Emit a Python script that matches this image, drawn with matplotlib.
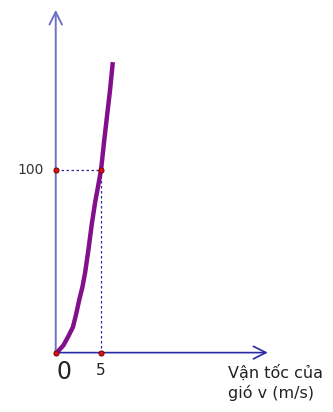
import matplotlib

matplotlib.use("Agg")
import matplotlib.pyplot as plt

# wind speed v (m/s) vs power
speed = [0, 0.3, 0.85, 1.4, 1.9, 2.25, 2.6, 2.95, 3.25, 3.6, 3.97, 4.34, 4.6,
         5.0, 5.35, 5.65, 6.0, 6.3]
power = [0, 1, 4, 9, 14, 21, 29, 36, 44, 56, 70, 82, 89,
         100, 116, 129, 144, 159]

marked_speed = 5
marked_power = 100
x_label = "Vận tốc của\ngió v (m/s)"

fig = plt.figure(figsize=(3.33, 4.12), dpi=100)
ax = fig.add_axes([0, 0, 1, 1])
ax.set_xlim(-6.15, 30.6)
ax.set_ylim(-32.5, 193.0)
ax.axis("off")

# axes with open arrow heads
ax.annotate("", xy=(0, 187.6), xytext=(0, 0),
            arrowprops=dict(arrowstyle="->,head_length=0.9,head_width=0.45",
                            color="#7070c4", lw=1.4, shrinkA=0, shrinkB=0))
ax.annotate("", xy=(23.4, 0), xytext=(0, 0),
            arrowprops=dict(arrowstyle="->,head_length=0.9,head_width=0.45",
                            color="#2a2aa8", lw=1.2, shrinkA=0, shrinkB=0))

# guide lines
ax.plot([0, marked_speed], [marked_power, marked_power], ls=(0, (2, 2)),
        color="#2a2aa8", lw=0.9)
ax.plot([marked_speed, marked_speed], [0, marked_power], ls=(0, (2, 2)),
        color="#2a2aa8", lw=0.9)

ax.plot(speed, power, color="#82108c", lw=3.2, solid_capstyle="butt",
        solid_joinstyle="round")

ax.scatter([0, marked_speed, 0, marked_speed], [0, 0, marked_power, marked_power],
           s=14, color="#e01010", edgecolor="#600000", linewidth=0.6, zorder=5)

ax.text(-1.3, marked_power, "100", ha="right", va="center", fontsize=10, color="#333333")
ax.text(0.86, -4, "0", ha="center", va="top", fontsize=17, color="#222222")
ax.text(marked_speed, -5.6, "5", ha="center", va="top", fontsize=11, color="#222222")
ax.text(19.0, -6.7, x_label, ha="left", va="top", fontsize=11.5, color="#222222",
        linespacing=1.3)

fig.savefig("out.png", dpi=100)
